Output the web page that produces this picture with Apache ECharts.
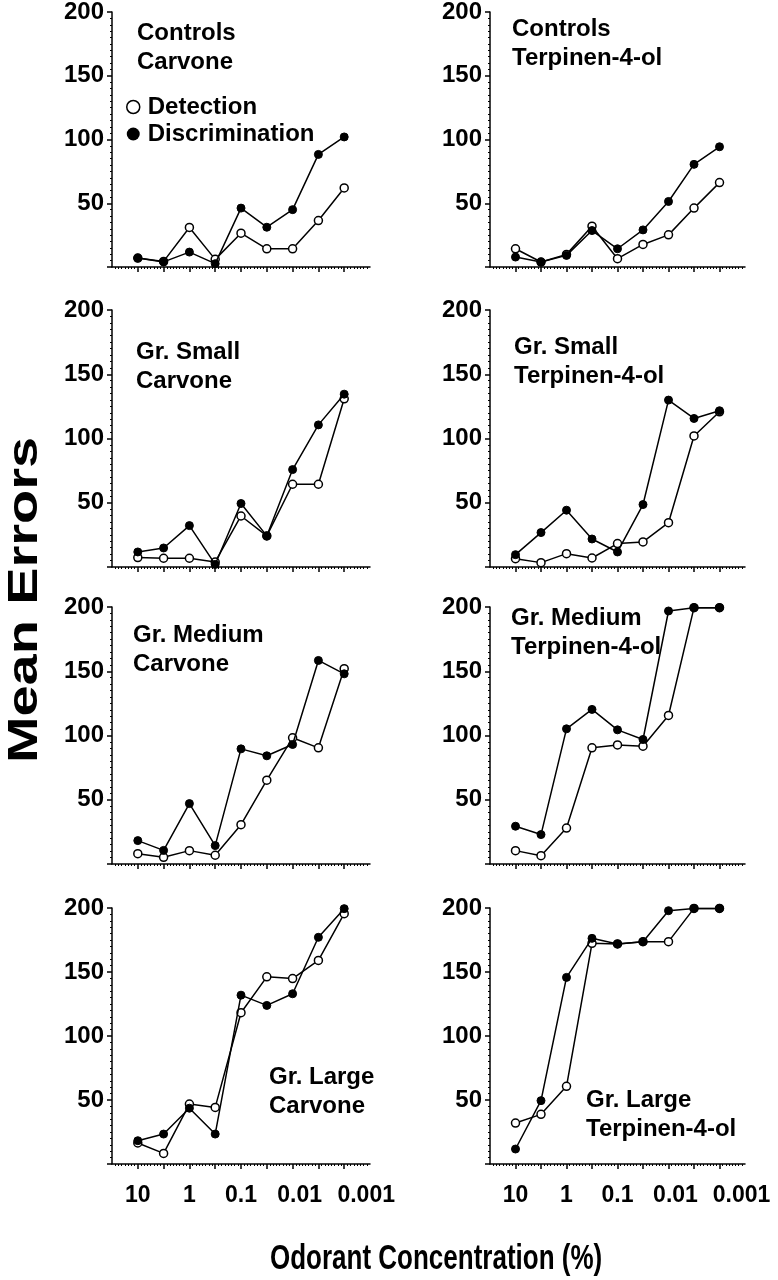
<!DOCTYPE html>
<html><head><meta charset="utf-8">
<script src="https://cdn.jsdelivr.net/npm/echarts@6/dist/echarts.min.js"></script>
<style>html,body{margin:0;padding:0;background:#fff}#c{width:778px;height:1280px}</style>
</head><body><div id="c"></div>
<script>
// Concentration steps (%), plotted at positions 1..9
const concentrations = ['10','3','1','0.3','0.1','0.03','0.01','0.003','0.001'];
const xTickLabels = ['10','1','0.1','0.01','0.001'];
const yTickValues = [50,100,150,200];
const groups = ['Controls','Gr. Small','Gr. Medium','Gr. Large'];
const odorants = ['Carvone','Terpinen-4-ol'];
const seriesNames = ['Detection','Discrimination'];

const detControlsCarvone = [7,4.4,31,6,26.5,14.3,14.3,36.4,62];
const disControlsCarvone = [7,4,11.7,2.6,46.2,31.2,45,88.3,102];
const detControlsTerp = [14.3,3.9,9.9,32,6.5,17.7,25.2,46.2,66.2];
const disControlsTerp = [7.8,3.9,9.1,28.6,14.3,29.1,51.4,80.5,94.3];
const detSmallCarvone = [7.3,6.8,6.8,3.9,39.7,24.2,64.4,64.4,130.9];
const disSmallCarvone = [11.7,14.8,32.2,2,49.4,24.2,75.8,110.6,134.5];
const detSmallTerp = [6.5,3.4,10.4,7,18.2,19.5,34.5,102,120.8];
const disSmallTerp = [9.6,26.8,44.2,21.8,11.7,48.6,129.9,115.6,121.6];
const detMediumCarvone = [8,5.2,10.4,6.8,30.6,65.2,98.2,90.4,152];
const disMediumCarvone = [18.2,10.6,47,14.3,89.6,84.2,93,158.4,148];
const detMediumTerp = [10.4,6.5,28,90.4,92.7,91.7,115.6,199.5,199.5];
const disMediumTerp = [29.4,22.9,105.2,120.3,104.4,96.9,196.9,199.5,199.5];
const detLargeCarvone = [16.4,8.3,46.8,44.2,118.2,146.2,144.9,159,195.6];
const disLargeCarvone = [18.2,23.4,43.6,23.4,131.9,123.9,133,177.1,199.5];
const detLargeTerp = [32,38.8,60.7,172.4,171.9,173.7,173.7,199.7,199.7];
const disLargeTerp = [11.7,49.5,145.8,176.3,171.9,173.7,197.9,199.7,199.7];

const panels = [
  [detControlsCarvone, disControlsCarvone],
  [detControlsTerp, disControlsTerp],
  [detSmallCarvone, disSmallCarvone],
  [detSmallTerp, disSmallTerp],
  [detMediumCarvone, disMediumCarvone],
  [detMediumTerp, disMediumTerp],
  [detLargeCarvone, disLargeCarvone],
  [detLargeTerp, disLargeTerp]
];

const FONT = '"Liberation Sans", Arial, Helvetica, sans-serif';
const gridBoxes = [
  {left:112, top:11, width:258, height:256},
  {left:490, top:11, width:255, height:256},
  {left:112, top:310, width:258, height:257},
  {left:490, top:310, width:255, height:257},
  {left:112, top:607, width:258, height:257},
  {left:490, top:607, width:255, height:257},
  {left:112, top:908, width:258, height:256},
  {left:490, top:908, width:255, height:256}
];
const titlePos = [
  {left:137, top:19},{left:512, top:15},
  {left:136, top:338},{left:514, top:333},
  {left:133, top:621},{left:511, top:604},
  {left:269, top:1063},{left:586, top:1086}
];

const positions = concentrations.map((c,i)=>i+1);
const labelPositions = xTickLabels.map(l=>concentrations.indexOf(l)+1);

const grids=[], xAxes=[], yAxes=[], series=[], titles=[];
panels.forEach((p, i) => {
  const row = Math.floor(i/2), col = i%2;
  grids.push(Object.assign({containLabel:false}, gridBoxes[i]));
  xAxes.push({
    gridIndex:i, type:'value', min:0, max:10, interval:1,
    axisLine:{show:true, lineStyle:{color:'#000', width:1.5}},
    axisTick:{show:true, customValues:positions, length:5, lineStyle:{color:'#000', width:1.5}},
    minorTick:{show:true, splitNumber:8, length:2, lineStyle:{color:'#000', width:1}},
    splitLine:{show:false},
    axisLabel:{
      show: row===3, customValues: labelPositions, margin:20,
      fontSize:23, fontWeight:'bold', color:'#000', fontFamily:FONT,
      formatter:(v)=>{
        const k = labelPositions.indexOf(v);
        if (k<0) return '';
        const t = xTickLabels[k];
        if (k===3) return '{a|'+t+'}';
        if (k===4) return '{b|'+t+'}';
        return t;
      },
      rich:{
        a:{fontSize:23, fontWeight:'bold', fontFamily:FONT, color:'#000', padding:[0,0,0,14]},
        b:{fontSize:23, fontWeight:'bold', fontFamily:FONT, color:'#000', padding:[0,0,0,44]}
      }
    }
  });
  yAxes.push({
    gridIndex:i, type:'value', min:0, max:200, interval:50,
    axisLine:{show:true, lineStyle:{color:'#000', width:1.5}},
    axisTick:{show:true, length:5, lineStyle:{color:'#000', width:1.5}},
    minorTick:{show:true, splitNumber:10, length:2, lineStyle:{color:'#000', width:1}},
    splitLine:{show:false},
    axisLabel:{
      fontSize:24, fontWeight:'bold', color:'#000', fontFamily:FONT, margin:8,
      formatter:(v)=> yTickValues.indexOf(v)>=0 ? String(v) : ''
    }
  });
  p.forEach((vals, s) => {
    series.push({
      name: seriesNames[s], type:'line', xAxisIndex:i, yAxisIndex:i,
      data: vals.map((v,k)=>[positions[k], v]),
      symbol:'circle', symbolSize:8, z: 2+s,
      lineStyle:{color:'#000', width:1.5},
      itemStyle: s===0 ? {color:'#fff', borderColor:'#000', borderWidth:1.5} : {color:'#000', borderColor:'#000', borderWidth:1},
      emphasis:{disabled:true}, animation:false
    });
  });
  titles.push({
    text: groups[row] + '\n' + odorants[col],
    left: titlePos[i].left, top: titlePos[i].top, padding:0,
    textStyle:{fontSize:24, fontWeight:'bold', color:'#000', fontFamily:FONT, lineHeight:29}
  });
});

const chart = echarts.init(document.getElementById('c'), null, {renderer:'canvas'});
chart.setOption({
  backgroundColor:'#fff',
  animation:false,
  title: titles,
  legend:{
    orient:'vertical', left:126, top:95, padding:0, itemGap:3,
    itemWidth:13, itemHeight:13,
    textStyle:{fontSize:24, fontWeight:'bold', color:'#000', fontFamily:FONT, padding:[0,0,0,3]},
    data:[
      {name:seriesNames[0], icon:'circle', itemStyle:{color:'#fff', borderColor:'#000', borderWidth:1.5}},
      {name:seriesNames[1], icon:'circle', itemStyle:{color:'#000', borderColor:'#000', borderWidth:0}}
    ],
    selectedMode:false
  },
  grid: grids, xAxis: xAxes, yAxis: yAxes, series: series,
  graphic:[
    {type:'text', x:25, y:600, rotation:Math.PI/2, scaleX:1.3,
     style:{text:'Mean Errors', font:'bold 43px '+FONT, fill:'#000', textAlign:'center', textVerticalAlign:'middle'}},
    {type:'text', x:270, y:1259, scaleY:1.35,
     style:{text:'Odorant Concentration (%)', font:'bold 26px '+FONT, fill:'#000', textAlign:'left', textVerticalAlign:'middle'}}
  ]
});
</script></body></html>
